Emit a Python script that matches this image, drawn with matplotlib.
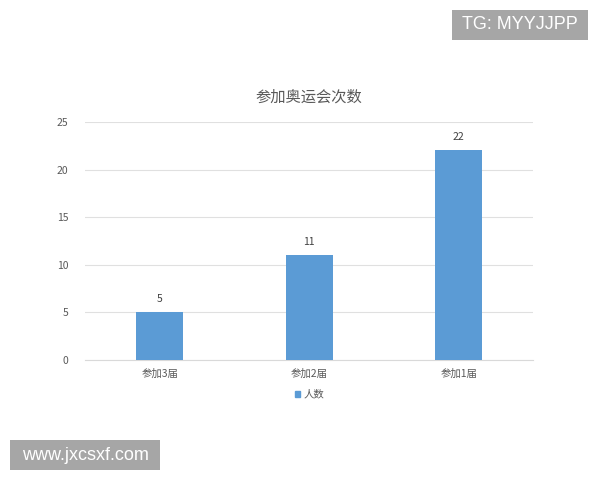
import matplotlib.pyplot as plt
from matplotlib.patches import Patch, Rectangle
import numpy as np

plt.rcParams['font.family'] = ['Noto Sans CJK SC', 'DejaVu Sans']

categories = ['参加3届', '参加2届', '参加1届']
counts = [5, 11, 22]
series_name = '人数'
title = '参加奥运会次数'
yticks = [0, 5, 10, 15, 20, 25]

bar_color = '#5b9bd5'
text_color = '#595959'

fig = plt.figure(figsize=(6, 4.8), dpi=100)
ax = fig.add_axes([0.142, 0.25, 0.747, 0.496])

x = np.arange(len(categories))
bars = ax.bar(x, counts, width=0.315, color=bar_color, zorder=3)
for b, v in zip(bars, counts):
    ax.annotate(str(v), xy=(b.get_x() + b.get_width() / 2, v), xytext=(0, 6),
                textcoords='offset points', ha='center', va='bottom',
                fontsize=7.5, color='#404040')

ax.set_xlim(-0.5, len(categories) - 0.5)
ax.set_ylim(0, 25)
ax.set_yticks(yticks)
ax.set_xticks(x)
ax.set_xticklabels(categories)
ax.grid(True, axis='y', color='#e0e0e0', linewidth=0.8, zorder=0)
for s in ['top', 'right', 'left']:
    ax.spines[s].set_visible(False)
ax.spines['bottom'].set_color('#d9d9d9')
ax.tick_params(axis='both', length=0, labelsize=7.5, labelcolor=text_color)
ax.tick_params(axis='y', pad=12)
ax.tick_params(axis='x', pad=6)

fig.text(0.515, 0.797, title, ha='center', va='center', fontsize=11, color=text_color)

leg = ax.legend([Patch(color=bar_color)], [series_name], loc='upper center',
                bbox_to_anchor=(0.5, -0.085), frameon=False, fontsize=7.5,
                handlelength=0.5, handleheight=0.5, handletextpad=0.3)
for t in leg.get_texts():
    t.set_color(text_color)

# 水印
fig.add_artist(Rectangle((0.7533, 0.9167), 0.2267, 0.0625, transform=fig.transFigure,
                         facecolor='#a6a6a6', edgecolor='none'))
fig.text(0.8667, 0.948, 'TG: MYYJJPP', ha='center', va='center', fontsize=13,
         color='white', family='Liberation Sans')
fig.add_artist(Rectangle((0.0167, 0.0208), 0.25, 0.0625, transform=fig.transFigure,
                         facecolor='#a6a6a6', edgecolor='none'))
fig.text(0.1417, 0.052, 'www.jxcsxf.com', ha='center', va='center', fontsize=13,
         color='white', family='Liberation Sans')

fig.savefig('out.png', dpi=100)
